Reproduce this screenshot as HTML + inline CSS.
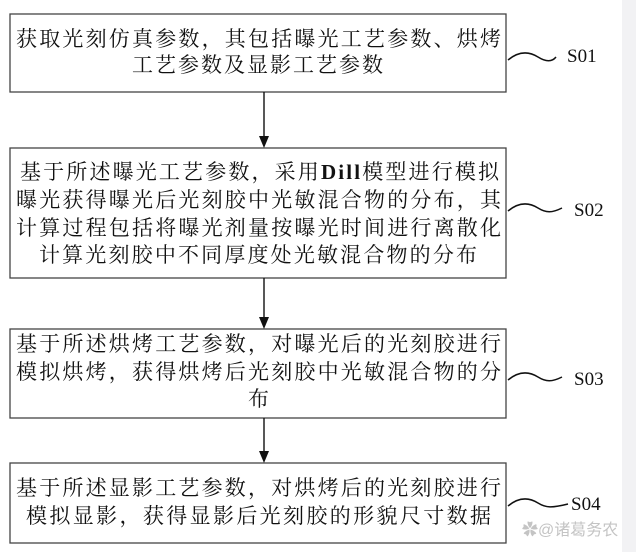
<!DOCTYPE html>
<html><head><meta charset="utf-8"><style>
html,body{margin:0;padding:0;background:#fff;}
svg{display:block;}
text{font-family:"Liberation Serif","Noto Serif CJK SC",serif;fill:#111;}
.t{font-size:21px;}
.s{font-size:19px;}
</style></head><body>
<svg width="636" height="552" viewBox="0 0 636 552" xmlns="http://www.w3.org/2000/svg">
<rect x="622" y="0" width="14" height="552" fill="#f2f2f4"/>
<g fill="none" stroke="#444" stroke-width="1.3">
<rect x="10" y="14" width="496" height="78"/>
<rect x="10" y="148" width="496" height="130"/>
<rect x="10" y="329" width="496" height="89"/>
<rect x="10" y="463" width="496" height="80"/>
</g>
<g stroke="#111" stroke-width="1.4">
<line x1="264" y1="92" x2="264" y2="137"/>
<line x1="264" y1="278" x2="264" y2="318"/>
<line x1="264" y1="418" x2="264" y2="452"/>
</g>
<g fill="#111">
<polygon points="259,136 269,136 264,148"/>
<polygon points="259,317 269,317 264,329"/>
<polygon points="259,451 269,451 264,463"/>
</g>
<g fill="none" stroke="#111" stroke-width="1.5">
<path d="M508,60 C520,50 530,52 538,57 C546,62 552,62 556,57"/>
<path d="M508,211 C520,201 530,203 538,208 C546,213 552,213 562,208"/>
<path d="M508,380 C520,370 530,372 538,377 C546,382 552,382 562,377"/>
<path d="M508,506 C520,496 530,498 538,503 C546,508 552,508 568,504"/>
</g>
<text class="s" x="567" y="62">S01</text>
<text class="s" x="574" y="216">S02</text>
<text class="s" x="574" y="385">S03</text>
<text class="s" x="571" y="510">S04</text>

<text class="t" x="16" y="46" textLength="485" lengthAdjust="spacing">获取光刻仿真参数，其包括曝光工艺参数、烘烤</text>
<text class="t" x="132" y="72" textLength="251" lengthAdjust="spacing">工艺参数及显影工艺参数</text>

<text class="t" x="20" y="179" textLength="479" lengthAdjust="spacing">基于所述曝光工艺参数，采用<tspan font-weight="bold">Dill</tspan>模型进行模拟</text>
<text class="t" x="16" y="207" textLength="485" lengthAdjust="spacing">曝光获得曝光后光刻胶中光敏混合物的分布，其</text>
<text class="t" x="16" y="235" textLength="485" lengthAdjust="spacing">计算过程包括将曝光剂量按曝光时间进行离散化</text>
<text class="t" x="39" y="262" textLength="438" lengthAdjust="spacing">计算光刻胶中不同厚度处光敏混合物的分布</text>

<text class="t" x="16" y="351" textLength="485" lengthAdjust="spacing">基于所述烘烤工艺参数，对曝光后的光刻胶进行</text>
<text class="t" x="16" y="379" textLength="485" lengthAdjust="spacing">模拟烘烤，获得烘烤后光刻胶中光敏混合物的分</text>
<text class="t" x="248" y="406">布</text>

<text class="t" x="16" y="495" textLength="485" lengthAdjust="spacing">基于所述显影工艺参数，对烘烤后的光刻胶进行</text>
<text class="t" x="26" y="523" textLength="465" lengthAdjust="spacing">模拟显影，获得显影后光刻胶的形貌尺寸数据</text>

<text x="522" y="535" style="font-size:16px;fill:#c4c4c4;font-family:'Liberation Sans','Noto Sans CJK SC',sans-serif;">✿@诸葛务农</text>
</svg>
</body></html>
